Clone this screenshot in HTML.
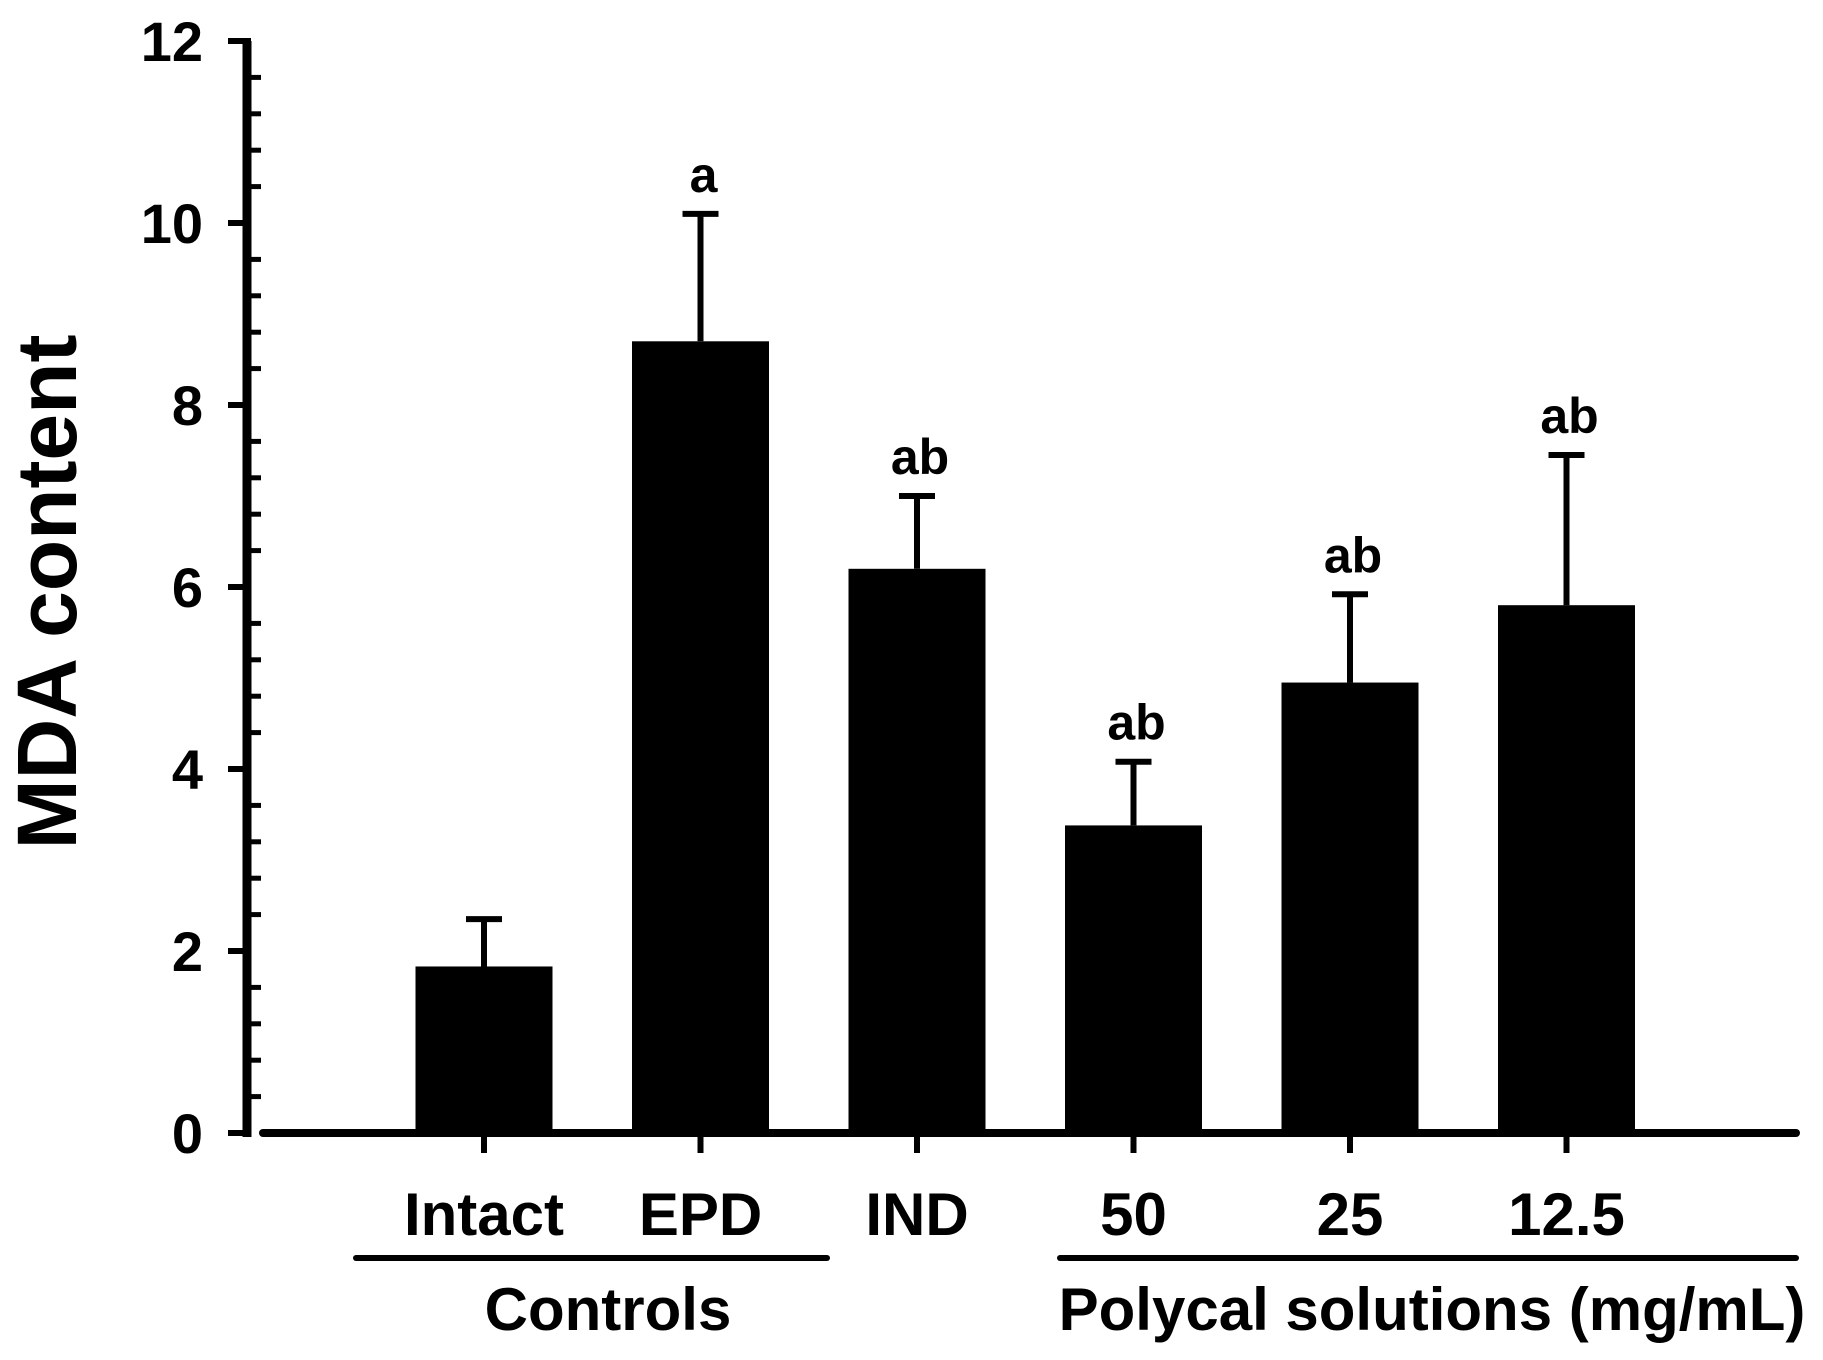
<!DOCTYPE html>
<html><head><meta charset="utf-8"><style>
html,body{margin:0;padding:0;background:#fff;}
svg{display:block;font-family:"Liberation Sans",Arial,sans-serif;font-weight:bold;}
</style></head><body>
<svg id="chart" width="1823" height="1360" viewBox="0 0 1823 1360" xmlns="http://www.w3.org/2000/svg">
<text transform="translate(76,592) rotate(-90)" text-anchor="middle" font-size="84" fill="#000">MDA content</text>
<g id="axes"></g>
<g id="bars"></g>
<line x1="356" y1="1258" x2="827" y2="1258" stroke="#000" stroke-width="6" stroke-linecap="round"/>
<text x="608" y="1330" text-anchor="middle" font-size="60">Controls</text>
<line x1="1060" y1="1258" x2="1796" y2="1258" stroke="#000" stroke-width="6" stroke-linecap="round"/>
<text x="1432" y="1330" text-anchor="middle" font-size="60">Polycal solutions (mg/mL)</text>
</svg>
<script>
const categories = ["Intact","EPD","IND","50","25","12.5"];
const values = [1.83, 8.7, 6.2, 3.38, 4.95, 5.8];
const errors = [0.52, 1.4, 0.8, 0.7, 0.97, 1.65];
const sigLabels = ["", "a", "ab", "ab", "ab", "ab"];
const yTicks = [0, 2, 4, 6, 8, 10, 12];

const NS = "http://www.w3.org/2000/svg";
const y0 = 1133, y12 = 41, yMax = 12;
const yScale = v => y0 - (y0 - y12) * v / yMax;
const xStart = 484, xStep = 216.5;
const xScale = i => xStart + i * xStep;
const barW = 137;

function mk(tag, attrs, parent) {
  const el = document.createElementNS(NS, tag);
  for (const k in attrs) el.setAttribute(k, attrs[k]);
  parent.appendChild(el);
  return el;
}
const axes = document.getElementById("axes");
const bars = document.getElementById("bars");

let el = mk("line", {x1: 247, y1: y12, x2: 247, y2: y0 + 4, stroke: "#000", "stroke-width": 9}, axes);


el = mk("line", {x1: 263, y1: y0, x2: 1796, y2: y0, stroke: "#000", "stroke-width": 8, "stroke-linecap": "round"}, axes);



for (let v = 0.4; v < yMax - 0.01; v += 0.4) {
  if (Math.abs(v / 2 - Math.round(v / 2)) < 0.01) continue;
  const t = mk("line", {x1: 247, y1: yScale(v), x2: 261, y2: yScale(v), stroke: "#000", "stroke-width": 5}, axes);
  
  
}
yTicks.forEach(v => {
  const t = mk("line", {x1: 228, y1: yScale(v), x2: 251, y2: yScale(v), stroke: "#000", "stroke-width": 6}, axes);
  
  
  const l = mk("text", {x: 203, y: yScale(v) + 20, "text-anchor": "end", "font-size": 56}, axes);
  l.textContent = String(v);
  
  
});

categories.forEach((c, i) => {
  const cx = xScale(i);
  const v = values[i], top = v + errors[i];
  const eb = mk("line", {x1: cx, y1: yScale(top), x2: cx, y2: yScale(v), stroke: "#000", "stroke-width": 6}, bars);
  
  
  const cap = mk("line", {x1: cx - 18, y1: yScale(top), x2: cx + 18, y2: yScale(top), stroke: "#000", "stroke-width": 6}, bars);
  
  
  const r = mk("rect", {x: cx - barW / 2, y: yScale(v), width: barW, height: y0 - yScale(v), fill: "#000"}, bars);
  
  
  const tk = mk("line", {x1: cx, y1: y0, x2: cx, y2: y0 + 20, stroke: "#000", "stroke-width": 6}, bars);
  
  
  const lab = mk("text", {x: cx, y: 1235, "text-anchor": "middle", "font-size": 60}, bars);
  lab.textContent = c;
  
  
  if (sigLabels[i]) {
    const s = mk("text", {x: cx + 3, y: yScale(top) - 22, "text-anchor": "middle", "font-size": 50}, bars);
    s.textContent = sigLabels[i];
    
    
  }
});
</script>
</body></html>
